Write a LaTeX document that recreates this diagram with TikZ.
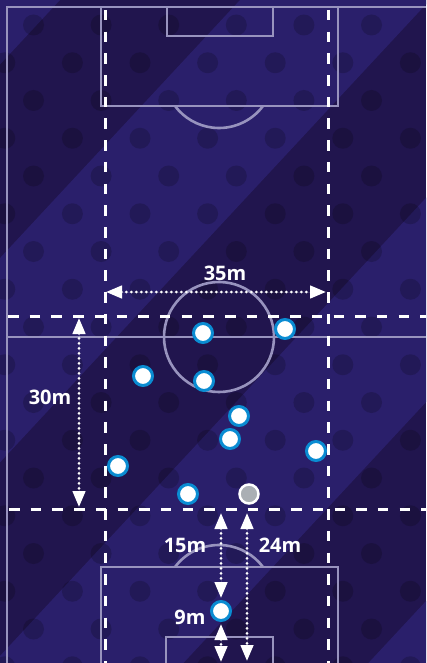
\documentclass[tikz,border=0pt]{standalone}
\usepackage{fontspec}
\setmainfont{Open Sans}
\usetikzlibrary{arrows.meta}
\definecolor{pitchdark}{HTML}{21154E}
\definecolor{pitchlight}{HTML}{2A1F6B}
\definecolor{markgray}{HTML}{9893BE}
\definecolor{playerblue}{HTML}{0A8CD2}
\definecolor{ballgray}{HTML}{AAAFB4}

\begin{document}
\begin{tikzpicture}[x=1pt,y=-1pt,
  pline/.style={draw=markgray,line width=2.6pt},
  guide/.style={draw=white,line width=3pt,dash pattern=on 10.5pt off 11.2pt},
  dim/.style={draw=white,fill=white,line width=3pt,line cap=round,dash pattern=on 0pt off 5pt,{Triangle[length=16pt,width=12.5pt]}-{Triangle[length=16pt,width=12.5pt]}},
  player/.style={circle,fill=white,draw=playerblue,line width=3pt,minimum size=19pt,inner sep=0pt},
  ballmark/.style={circle,fill=ballgray,draw=white,line width=2.5pt,minimum size=19pt,inner sep=0pt},
  lbl/.style={text=white,font=\bfseries\fontsize{20}{20}\selectfont,inner sep=0pt},
  dot/.style={fill=black,fill opacity=0.18}]
\useasboundingbox (0,0) rectangle (426,663);
\fill[pitchdark] (0,0) rectangle (426,663);
\begin{scope}
\clip (0,0) rectangle (426,663);
\foreach \a/\b in {-400/60,240/430,610/800,985/1200}
  \fill[pitchlight] (\a+46.5,-50) -- (\b+46.5,-50) -- (\b-669.6,720) -- (\a-669.6,720) -- cycle;
\foreach \r in {0,...,8}
  \foreach \c in {0,...,6} {
    \fill[dot] (33.5+67.6*\c,25+75.5*\r) circle (10.5);
    \fill[dot] (4.8+67.6*\c,62.75+75.5*\r) circle (10.5);
  }
\end{scope}
% pitch markings
\draw[pline] (7,663) -- (7,7) -- (426,7);
\draw[pline] (7,337) -- (426,337);
\draw[pline] (219,337) circle (55);
\draw[pline] (101,7) -- (101,106) -- (338,106) -- (338,7);
\draw[pline] (167,7) -- (167,36) -- (273,36) -- (273,7);
\draw[pline] (263,106) arc (36.87:143.13:55);
\draw[pline] (101,663) -- (101,567) -- (338,567) -- (338,663);
\draw[pline] (166,663) -- (166,637) -- (273,637) -- (273,663);
\draw[pline] (175,567) arc (-143.13:-36.87:55);
% zone
\draw[guide] (105,10) -- (105,663);
\draw[guide] (328,10) -- (328,663);
\draw[guide] (8,316) -- (426,316);
\draw[guide] (9,509) -- (426,509);
% players
\node[player] (p1) at (203,333) {};
\node[player] (p2) at (285,329) {};
\node[player] (p3) at (143,376) {};
\node[player] (p4) at (204,381) {};
\node[player] (p5) at (239,416) {};
\node[player] (p6) at (230,439) {};
\node[player] (p7) at (316,451) {};
\node[player] (p8) at (118,466) {};
\node[player] (p9) at (188,494) {};
\node[ballmark] (ball) at (249,494) {};
\node[player] (keeper) at (221,611) {};
% distances
\coordinate (wl) at (106,292);
\coordinate (wr) at (326,292);
\coordinate (dt) at (79,318);
\coordinate (db) at (79,507);
\coordinate (lt) at (221,513);
\coordinate (lb) at (221,662);
\coordinate (gt) at (247,513);
\coordinate (gb) at (247,661);
\draw[dim] (wl) -- (wr);
\draw[dim] (dt) -- (db);
\draw[dim,shorten >=2pt] (lt) -- (keeper.north);
\draw[dim,shorten <=2pt] (keeper.south) -- (lb);
\draw[dim] (gt) -- (gb);
\node[lbl] (width) at (225,273) {35m};
\node[lbl] (depth) at (50,397) {30m};
\node[lbl] (line) at (185,545) {15m};
\node[lbl] (goal) at (280,545) {24m};
\node[lbl] (box) at (190,617) {9m};
\end{tikzpicture}
\end{document}
